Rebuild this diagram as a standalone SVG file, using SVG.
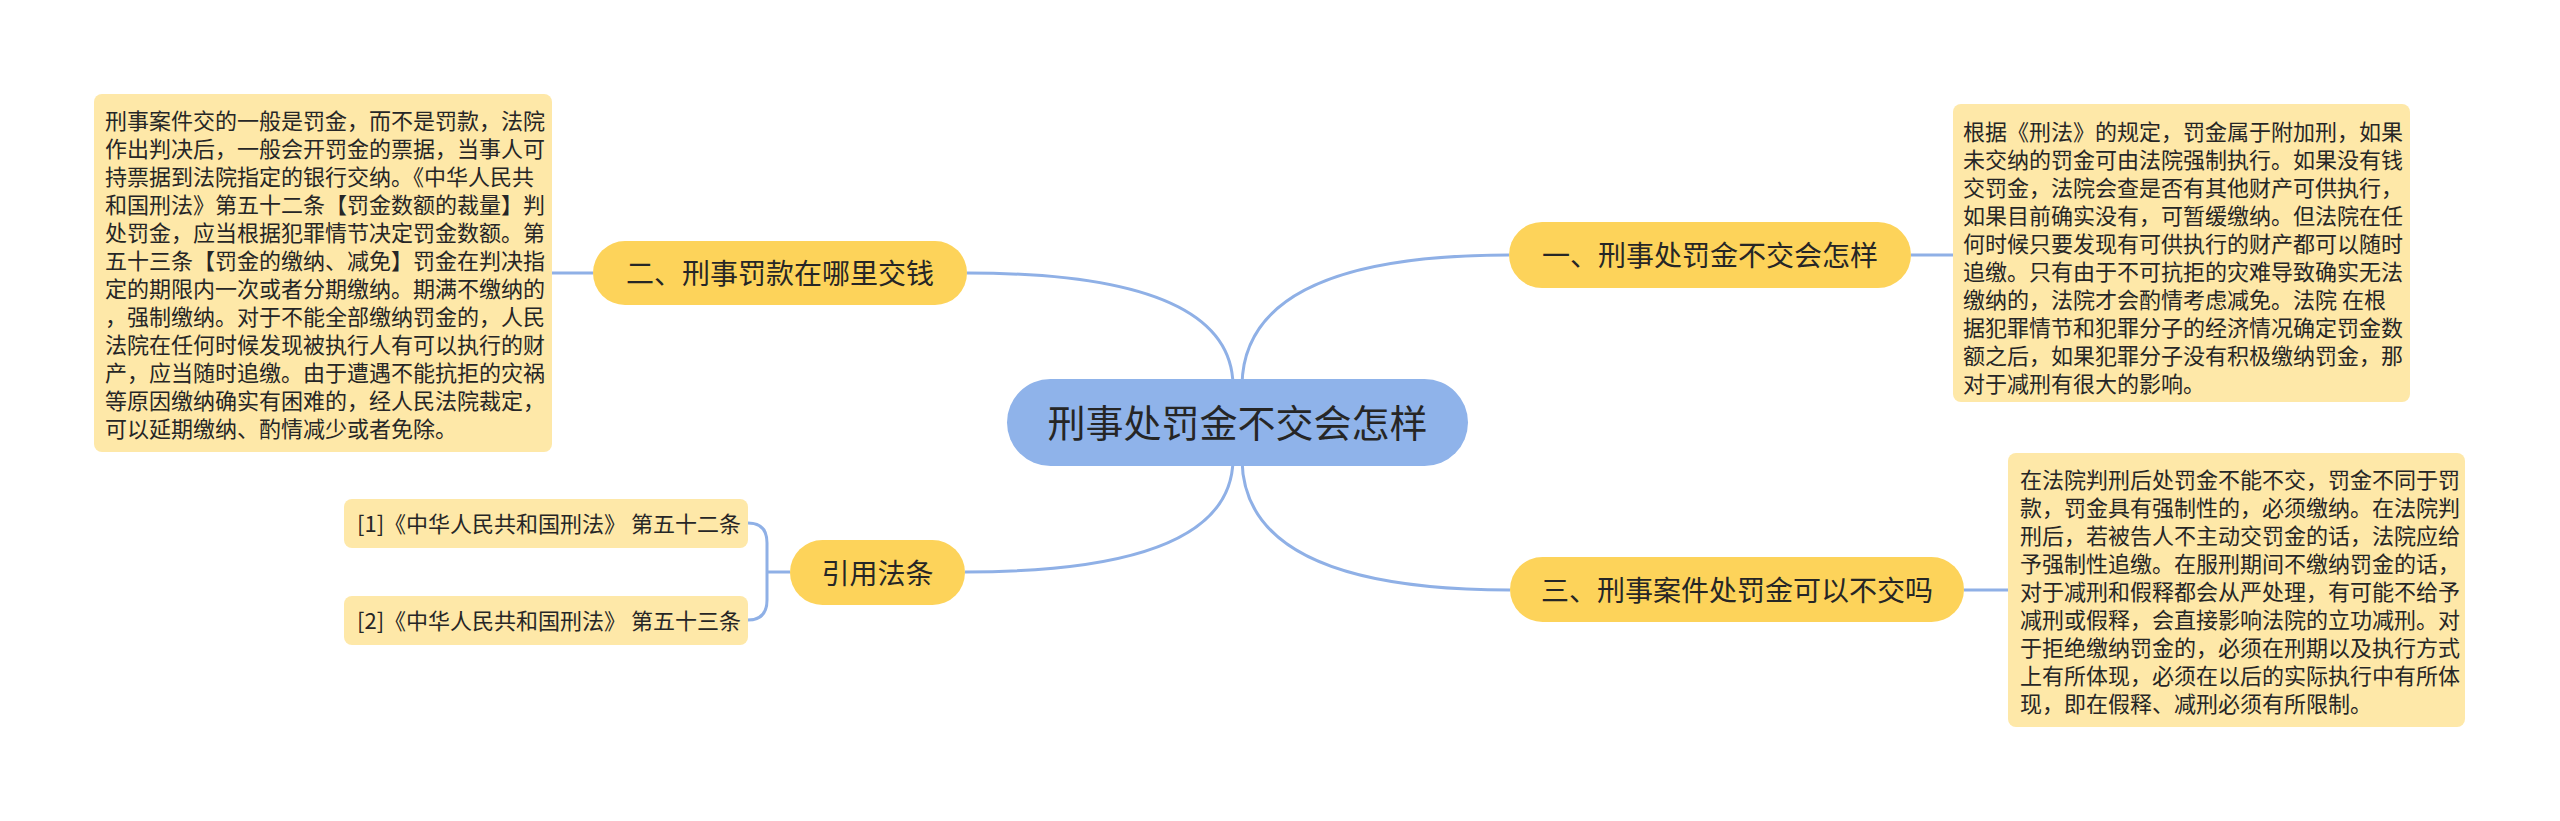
<svg xmlns="http://www.w3.org/2000/svg" width="2560" height="821" viewBox="0 0 2560 821">
<style>
.t{font-family:"Noto Sans CJK SC","Noto Sans",sans-serif;fill:#262626}
.box{fill:#fee8a8}
.node{fill:#fdd35a}
.c{fill:none;stroke:#8fb0e6;stroke-width:3}
.s22{font-size:22px}
.s28{font-size:28px}
</style>
<rect width="2560" height="821" fill="#ffffff"/>
<g id="connectors">
<path class="c" d="M1233,385 Q1231,273 967,273"/>
<path class="c" d="M1242,385 Q1244,255 1509,255"/>
<path class="c" d="M1233,460 Q1231,572 965,572"/>
<path class="c" d="M1242,460 Q1244,590 1510,590"/>
<path class="c" d="M552,273 L593,273"/>
<path class="c" d="M1911,255 L1953,255"/>
<path class="c" d="M1964,590 L2008,590"/>
<path class="c" d="M748,523 Q767,523 767,543 L767,600 Q767,620 748,620 M767,572 L790,572"/>
</g>
<g id="central">
<rect x="1007" y="379" width="461" height="87" rx="43.5" fill="#8fb3ea"/>
<text class="t" x="1237.5" y="437" font-size="38" text-anchor="middle" fill="#222">刑事处罚金不交会怎样</text>
</g>
<g id="node1">
<rect class="node" x="1509" y="222" width="402" height="66" rx="33"/>
<text class="t s28" x="1710" y="266" text-anchor="middle">一、刑事处罚金不交会怎样</text>
</g>
<g id="node2">
<rect class="node" x="593" y="241" width="374" height="64" rx="32"/>
<text class="t s28" x="780" y="284" text-anchor="middle">二、刑事罚款在哪里交钱</text>
</g>
<g id="node3">
<rect class="node" x="1510" y="557" width="454" height="65" rx="32.5"/>
<text class="t s28" x="1737" y="601" text-anchor="middle">三、刑事案件处罚金可以不交吗</text>
</g>
<g id="node4">
<rect class="node" x="790" y="540" width="175" height="65" rx="32.5"/>
<text class="t s28" x="877.5" y="584" text-anchor="middle">引用法条</text>
</g>
<g id="ref1">
<rect class="box" x="344" y="499" width="404" height="49" rx="8"/>
<text class="t s22" x="357" y="532">[1]《中华人民共和国刑法》 第五十二条</text>
</g>
<g id="ref2">
<rect class="box" x="344" y="596" width="404" height="49" rx="8"/>
<text class="t s22" x="357" y="629">[2]《中华人民共和国刑法》 第五十三条</text>
</g>
<g id="text2">
<rect class="box" x="94" y="94" width="458" height="358" rx="8"/>
<text class="t s22">
<tspan x="105" y="129">刑事案件交的一般是罚金，而不是罚款，法院</tspan>
<tspan x="105" y="157">作出判决后，一般会开罚金的票据，当事人可</tspan>
<tspan x="105" y="185">持票据到法院指定的银行交纳。《中华人民共</tspan>
<tspan x="105" y="213">和国刑法》第五十二条【罚金数额的裁量】判</tspan>
<tspan x="105" y="241">处罚金，应当根据犯罪情节决定罚金数额。第</tspan>
<tspan x="105" y="269">五十三条【罚金的缴纳、减免】罚金在判决指</tspan>
<tspan x="105" y="297">定的期限内一次或者分期缴纳。期满不缴纳的</tspan>
<tspan x="105" y="325">，强制缴纳。对于不能全部缴纳罚金的，人民</tspan>
<tspan x="105" y="353">法院在任何时候发现被执行人有可以执行的财</tspan>
<tspan x="105" y="381">产，应当随时追缴。由于遭遇不能抗拒的灾祸</tspan>
<tspan x="105" y="409">等原因缴纳确实有困难的，经人民法院裁定，</tspan>
<tspan x="105" y="437">可以延期缴纳、酌情减少或者免除。</tspan>
</text>
</g>
<g id="text1">
<rect class="box" x="1953" y="104" width="457" height="298" rx="8"/>
<text class="t s22">
<tspan x="1963" y="140">根据《刑法》的规定，罚金属于附加刑，如果</tspan>
<tspan x="1963" y="168">未交纳的罚金可由法院强制执行。如果没有钱</tspan>
<tspan x="1963" y="196">交罚金，法院会查是否有其他财产可供执行，</tspan>
<tspan x="1963" y="224">如果目前确实没有，可暂缓缴纳。但法院在任</tspan>
<tspan x="1963" y="252">何时候只要发现有可供执行的财产都可以随时</tspan>
<tspan x="1963" y="280">追缴。只有由于不可抗拒的灾难导致确实无法</tspan>
<tspan x="1963" y="308">缴纳的，法院才会酌情考虑减免。法院 在根</tspan>
<tspan x="1963" y="336">据犯罪情节和犯罪分子的经济情况确定罚金数</tspan>
<tspan x="1963" y="364">额之后，如果犯罪分子没有积极缴纳罚金，那</tspan>
<tspan x="1963" y="392">对于减刑有很大的影响。</tspan>
</text>
</g>
<g id="text3">
<rect class="box" x="2008" y="453" width="457" height="274" rx="8"/>
<text class="t s22">
<tspan x="2020" y="488">在法院判刑后处罚金不能不交，罚金不同于罚</tspan>
<tspan x="2020" y="516">款，罚金具有强制性的，必须缴纳。在法院判</tspan>
<tspan x="2020" y="544">刑后，若被告人不主动交罚金的话，法院应给</tspan>
<tspan x="2020" y="572">予强制性追缴。在服刑期间不缴纳罚金的话，</tspan>
<tspan x="2020" y="600">对于减刑和假释都会从严处理，有可能不给予</tspan>
<tspan x="2020" y="628">减刑或假释，会直接影响法院的立功减刑。对</tspan>
<tspan x="2020" y="656">于拒绝缴纳罚金的，必须在刑期以及执行方式</tspan>
<tspan x="2020" y="684">上有所体现，必须在以后的实际执行中有所体</tspan>
<tspan x="2020" y="712">现，即在假释、减刑必须有所限制。</tspan>
</text>
</g>
</svg>
